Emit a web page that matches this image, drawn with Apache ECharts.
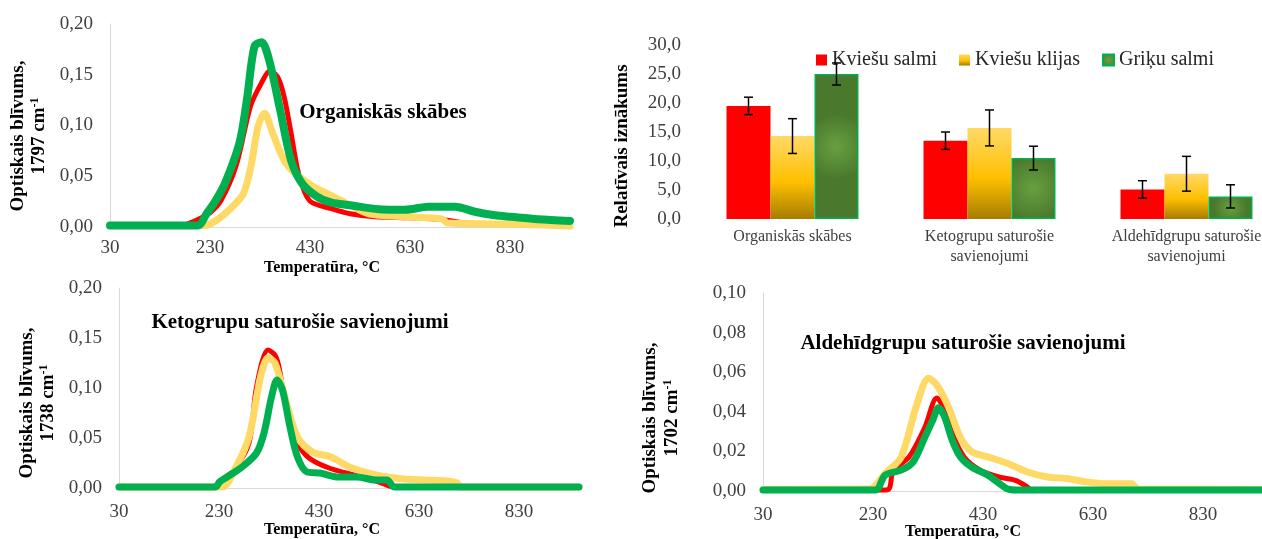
<!DOCTYPE html>
<html><head><meta charset="utf-8">
<script src="https://cdn.jsdelivr.net/npm/echarts@6/dist/echarts.min.js"></script>
<style>html,body{margin:0;padding:0;background:#fff}#c{width:1262px;height:539px}</style>
</head><body><div id="c"></div>
<script>
// ---------- DATA ----------
const seriesNames = ['Kviešu salmi', 'Kviešu klijas', 'Griķu salmi'];
const temperatureTicks = [30, 230, 430, 630, 830];

// Panel 1: Organiskās skābes, 1797 cm-1  [temperature, optical density]
const orgRed = [[30,0.0015],[170,0.0015],[190,0.004],[208,0.008],[230,0.014],[252,0.026],[282,0.060],[311,0.119],[333,0.142],[350,0.154],[365,0.148],[378,0.129],[392,0.093],[407,0.053],[429,0.026],[473,0.018],[510,0.013],[560,0.010],[630,0.009],[700,0.007],[740,0.004],[800,0.003],[950,0.002]];
const orgYellow = [[30,0.0015],[215,0.0015],[230,0.003],[252,0.010],[275,0.020],[297,0.033],[312,0.060],[326,0.099],[339,0.112],[355,0.093],[378,0.066],[400,0.053],[436,0.040],[473,0.031],[510,0.0215],[547,0.013],[620,0.010],[694,0.008],[705,0.004],[800,0.003],[900,0.002],[950,0.001]];
const orgGreen = [[30,0.0015],[205,0.0015],[223,0.013],[240,0.025],[260,0.043],[289,0.083],[304,0.126],[319,0.178],[333,0.182],[348,0.165],[370,0.116],[392,0.066],[414,0.043],[444,0.030],[473,0.024],[510,0.0215],[567,0.0175],[620,0.017],[667,0.020],[720,0.020],[760,0.015],[800,0.0115],[832,0.010],[886,0.0076],[950,0.006]];

// Panel 3: Ketogrupu saturošie savienojumi, 1738 cm-1
const ketoRed = [[30,0.001],[218,0.001],[232,0.006],[260,0.018],[290,0.045],[305,0.101],[328,0.138],[342,0.133],[350,0.121],[365,0.078],[387,0.045],[410,0.030],[450,0.020],[500,0.013],[550,0.006],[580,0.001],[950,0.001]];
const ketoYellow = [[30,0.001],[236,0.001],[261,0.018],[290,0.051],[313,0.111],[328,0.130],[342,0.125],[365,0.085],[387,0.051],[417,0.036],[454,0.031],[491,0.021],[543,0.013],[600,0.009],[640,0.008],[686,0.007],[706,0.005],[712,0.001],[950,0.001]];
const ketoGreen = [[30,0.001],[223,0.001],[231,0.006],[246,0.011],[276,0.021],[305,0.035],[320,0.055],[335,0.091],[346,0.108],[357,0.098],[372,0.061],[387,0.031],[406,0.016],[432,0.015],[469,0.011],[506,0.011],[543,0.008],[566,0.008],[581,0.001],[950,0.001]];

// Panel 4: Aldehīdgrupu saturošie savienojumi, 1702 cm-1
const aldRed = [[30,0.0005],[255,0.0005],[267,0.0105],[295,0.017],[324,0.032],[346,0.047],[360,0.041],[374,0.029],[396,0.017],[425,0.0105],[460,0.007],[489,0.0054],[511,0.002],[518,0.0005],[950,0.0005]];
const aldYellow = [[30,0.0008],[224,0.001],[252,0.0088],[281,0.017],[310,0.044],[331,0.057],[346,0.0535],[367,0.0426],[389,0.027],[410,0.0198],[439,0.0172],[475,0.0139],[511,0.0096],[547,0.0071],[582,0.0063],[618,0.0046],[654,0.0037],[700,0.0037],[712,0.001],[950,0.0008]];
const aldGreen = [[30,0.0005],[234,0.0005],[252,0.008],[281,0.0105],[303,0.0147],[324,0.027],[339,0.036],[349,0.042],[360,0.0375],[374,0.0257],[389,0.0172],[410,0.012],[439,0.008],[460,0.0037],[475,0.001],[490,0.0005],[950,0.0005]];

// Panel 2: Relatīvais iznākums (bars with error bars)
const barCategories = ['Organiskās skābes', 'Ketogrupu saturošie\nsavienojumi', 'Aldehīdgrupu saturošie\nsavienojumi'];
const yieldKviesuSalmi = [19.5, 13.5, 5.1];
const errKviesuSalmi = [1.5, 1.5, 1.5];
const yieldKviesuKlijas = [14.3, 15.7, 7.8];
const errKviesuKlijas = [3.0, 3.1, 3.0];
const yieldGrikuSalmi = [25.0, 10.5, 3.9];
const errGrikuSalmi = [1.9, 2.05, 2.0];

// ---------- STYLE ----------
const SERIF = 'Liberation Serif';
const RED = '#FF0000', YELLOW = '#FFD966', GREEN = '#00B050';
const tickColor = '#404040';
const comma = (d) => (v) => v.toFixed(d).replace('.', ',');

function tempAxis(gi, margin) {
  return {
    type: 'value', gridIndex: gi, min: 30, max: 950, interval: 200,
    axisLine: { show: true, lineStyle: { color: '#D9D9D9', width: 1 } },
    axisTick: { show: false }, splitLine: { show: false },
    axisLabel: { fontFamily: SERIF, fontSize: 19, color: tickColor, margin: margin,
      customValues: temperatureTicks, showMaxLabel: true }
  };
}
function odAxis(gi, max, interval) {
  return {
    type: 'value', gridIndex: gi, min: 0, max: max, interval: interval,
    axisLine: { show: true, lineStyle: { color: '#D9D9D9', width: 1 } },
    axisTick: { show: false }, splitLine: { show: false },
    axisLabel: { fontFamily: SERIF, fontSize: 19, color: tickColor, margin: 17, formatter: comma(2) }
  };
}
function lineSeries(name, data, color, width, gi) {
  return {
    type: 'line', name: name, xAxisIndex: gi, yAxisIndex: gi, data: data,
    showSymbol: false, symbol: 'none', smooth: 0.3, clip: false, silent: true,
    lineStyle: { color: color, width: width, cap: 'round', join: 'round' },
    itemStyle: { color: color }
  };
}
const barStyles = [
  { color: RED },
  { color: { type: 'linear', x: 0, y: 0, x2: 0, y2: 1, colorStops: [
      { offset: 0, color: '#FFD966' }, { offset: 0.55, color: '#FFC000' }, { offset: 1, color: '#A67C00' }] } },
  { color: { type: 'radial', x: 0.5, y: 0.5, r: 0.75, colorStops: [
      { offset: 0, color: '#67A040' }, { offset: 1, color: '#4A782C' }] },
    borderColor: GREEN, borderWidth: 1.5 }
];
const CAT_GAP = 0.33;
function errorSeries(k, values, errors) {
  return {
    type: 'custom', name: 'err' + k, xAxisIndex: 1, yAxisIndex: 1, z: 10, silent: true,
    encode: { x: 0, y: [1, 2] },
    data: values.map((v, i) => [i, v - errors[i], v + errors[i]]),
    renderItem: function (params, api) {
      const ci = api.value(0);
      const lo = api.coord([ci, api.value(1)]);
      const hi = api.coord([ci, api.value(2)]);
      const band = api.size([1, 0])[0];
      const bw = band * (1 - CAT_GAP) / 3;
      const x = lo[0] + (k - 1) * bw;
      const c = 4.5;
      const st = { stroke: '#000', lineWidth: 1.5 };
      return { type: 'group', children: [
        { type: 'line', shape: { x1: x, y1: lo[1], x2: x, y2: hi[1] }, style: st },
        { type: 'line', shape: { x1: x - c, y1: lo[1], x2: x + c, y2: lo[1] }, style: st },
        { type: 'line', shape: { x1: x - c, y1: hi[1], x2: x + c, y2: hi[1] }, style: st }
      ] };
    }
  };
}
function vText(text, x, y, size) {
  return { type: 'text', x: x, y: y, rotation: Math.PI / 2, silent: true,
    style: { text: text, fontFamily: SERIF, fontWeight: 'bold', fontSize: size || 19, fill: '#000',
      align: 'center', verticalAlign: 'middle',
      rich: { s: { fontFamily: SERIF, fontWeight: 'bold', fontSize: 12, fill: '#000', verticalAlign: 'top', lineHeight: 20 },
              n: { fontFamily: SERIF, fontWeight: 'bold', fontSize: 19, fill: '#000', lineHeight: 20 } } } };
}
function hText(text, x, y, size) {
  return { type: 'text', x: x, y: y, silent: true,
    style: { text: text, fontFamily: SERIF, fontWeight: 'bold', fontSize: size, fill: '#000',
      align: 'center', verticalAlign: 'middle' } };
}

const chart = echarts.init(document.getElementById('c'));
chart.setOption({
  animation: false,
  backgroundColor: '#fff',
  grid: [
    { left: 110, top: 24, width: 460, height: 203, outerBoundsMode: 'none' },
    { left: 694, top: 45, width: 591, height: 174, outerBoundsMode: 'none' },
    { left: 119, top: 288, width: 460, height: 200, outerBoundsMode: 'none' },
    { left: 763, top: 293, width: 506, height: 198, outerBoundsMode: 'none' }
  ],
  legend: {
    data: seriesNames, left: 816, top: 50, padding: 0, itemGap: 22, itemWidth: 11, itemHeight: 11,
    icon: 'rect', selectedMode: false,
    textStyle: { fontFamily: SERIF, fontSize: 20, color: '#262626' }
  },
  xAxis: [
    tempAxis(0, 12),
    { type: 'category', gridIndex: 1, data: barCategories,
      axisLine: { show: false }, axisTick: { show: false }, splitLine: { show: false },
      axisLabel: { interval: 0, fontFamily: SERIF, fontSize: 16, color: tickColor, lineHeight: 20, margin: 8 } },
    tempAxis(2, 15),
    tempAxis(3, 15)
  ],
  yAxis: [
    odAxis(0, 0.2, 0.05),
    { type: 'value', gridIndex: 1, min: 0, max: 30, interval: 5,
      axisLine: { show: false }, axisTick: { show: false }, splitLine: { show: false },
      axisLabel: { fontFamily: SERIF, fontSize: 19, color: tickColor, margin: 13, formatter: comma(1) } },
    odAxis(2, 0.2, 0.05),
    odAxis(3, 0.1, 0.02)
  ],
  series: [
    lineSeries('p1 ' + seriesNames[0], orgRed, RED, 5, 0),
    lineSeries('p1 ' + seriesNames[1], orgYellow, YELLOW, 7, 0),
    lineSeries('p1 ' + seriesNames[2], orgGreen, GREEN, 8, 0),
    lineSeries('p3 ' + seriesNames[0], ketoRed, RED, 5, 2),
    lineSeries('p3 ' + seriesNames[1], ketoYellow, YELLOW, 7, 2),
    lineSeries('p3 ' + seriesNames[2], ketoGreen, GREEN, 7, 2),
    lineSeries('p4 ' + seriesNames[0], aldRed, RED, 5, 3),
    lineSeries('p4 ' + seriesNames[1], aldYellow, YELLOW, 7, 3),
    lineSeries('p4 ' + seriesNames[2], aldGreen, GREEN, 7, 3),
    { type: 'bar', name: seriesNames[0], xAxisIndex: 1, yAxisIndex: 1, data: yieldKviesuSalmi,
      barGap: '0%', barCategoryGap: (CAT_GAP * 100) + '%', itemStyle: barStyles[0] },
    { type: 'bar', name: seriesNames[1], xAxisIndex: 1, yAxisIndex: 1, data: yieldKviesuKlijas,
      barGap: '0%', barCategoryGap: (CAT_GAP * 100) + '%', itemStyle: barStyles[1] },
    { type: 'bar', name: seriesNames[2], xAxisIndex: 1, yAxisIndex: 1, data: yieldGrikuSalmi,
      barGap: '0%', barCategoryGap: (CAT_GAP * 100) + '%', itemStyle: barStyles[2] },
    errorSeries(0, yieldKviesuSalmi, errKviesuSalmi),
    errorSeries(1, yieldKviesuKlijas, errKviesuKlijas),
    errorSeries(2, yieldGrikuSalmi, errGrikuSalmi)
  ],
  graphic: [
    hText('Organiskās skābes', 383, 113, 21),
    hText('Ketogrupu saturošie savienojumi', 300, 323, 21),
    hText('Aldehīdgrupu saturošie savienojumi', 963, 344, 21),
    hText('Temperatūra, °C', 322, 268, 16),
    hText('Temperatūra, °C', 322, 530, 16),
    hText('Temperatūra, °C', 963, 532, 16),
    vText('Optiskais blīvums,', 18, 136),
    vText('{n|1797 cm}{s|-1}', 39, 136),
    vText('Optiskais blīvums,', 27, 403),
    vText('{n|1738 cm}{s|-1}', 48, 403),
    vText('Optiskais blīvums,', 650, 418),
    vText('{n|1702 cm}{s|-1}', 672, 418),
    vText('Relatīvais iznākums', 622, 146)
  ]
});
</script></body></html>
